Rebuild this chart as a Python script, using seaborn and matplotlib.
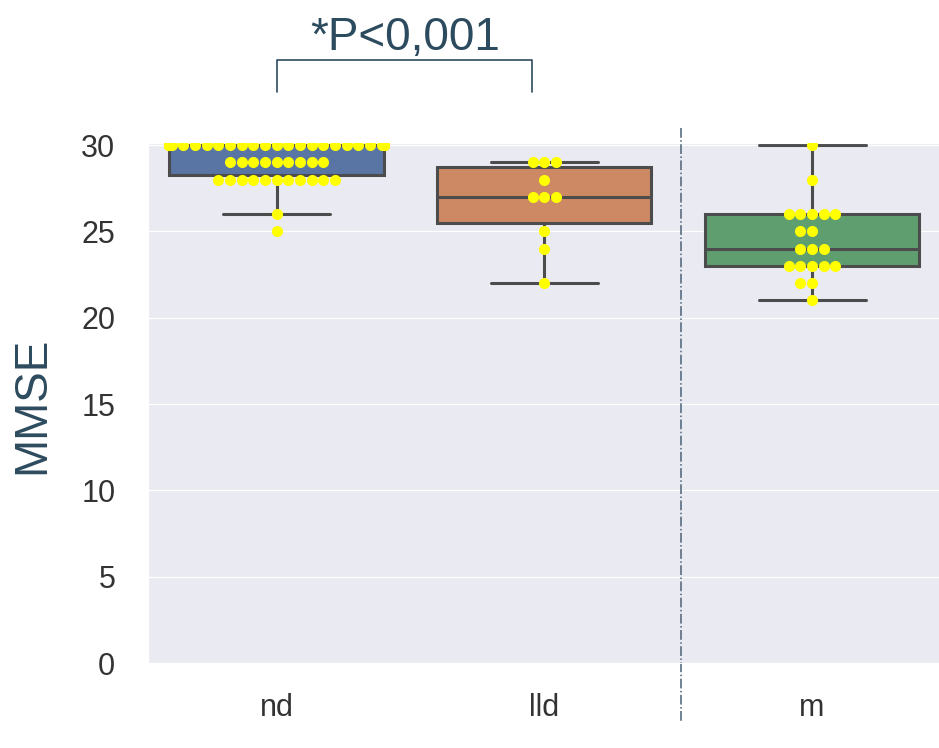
import numpy as np
import pandas as pd
import matplotlib.pyplot as plt
import seaborn as sns

# MMSE scores per group
groups = ["nd", "lld", "m"]
nd_scores = [30] * 28 + [29] * 9 + [28] * 11 + [26, 25]
lld_scores = [29, 29, 29, 28, 27, 27, 27, 25, 24, 22]
m_scores = [30, 28] + [26] * 5 + [25] * 2 + [24] * 3 + [23] * 5 + [22] * 2 + [21]

df = pd.DataFrame({
    "group": ["nd"] * len(nd_scores) + ["lld"] * len(lld_scores) + ["m"] * len(m_scores),
    "MMSE": nd_scores + lld_scores + m_scores,
})

sns.set_style("darkgrid")
plt.rcParams["font.family"] = ["Liberation Sans", "DejaVu Sans"]

ink = "#2d4b5e"

fig = plt.figure(figsize=(9.39, 7.48), dpi=100)
ax = fig.add_axes([0.1576, 0.1136, 0.8498, 0.6948])

sns.boxplot(data=df, x="group", y="MMSE", order=groups, hue="group",
            palette="deep", legend=False, linewidth=2.2, fliersize=6, ax=ax)
sns.swarmplot(data=df, x="group", y="MMSE", order=groups, color="yellow",
              size=8, ax=ax)

ax.set_xlim(-0.48, 2.5)
ax.set_ylim(0, 30.1)
ax.set_yticks([0, 5, 10, 15, 20, 25, 30])
ax.tick_params(axis="y", labelsize=22, labelcolor="#333333", pad=20)
ax.tick_params(axis="x", labelsize=22, labelcolor="#333333", pad=18)
ax.set_xlabel("")
ax.set_ylabel("MMSE", fontsize=33, color=ink)
ax.yaxis.set_label_coords(-0.117, 0.496)

# separator between groups
ax.plot([1.51, 1.51], [30.98, -3.47], ls="-.", lw=1.1, color="#4a6275",
        clip_on=False)

# significance bracket
ax.plot([0, 0, 0.955, 0.955], [33.06, 34.92, 34.92, 33.06], color=ink,
        lw=1.2, clip_on=False)
ax.text(0.48, 36.2, "*P<0,001", ha="center", va="center", fontsize=33,
        color=ink, clip_on=False)

plt.savefig("out.png", dpi=100)
